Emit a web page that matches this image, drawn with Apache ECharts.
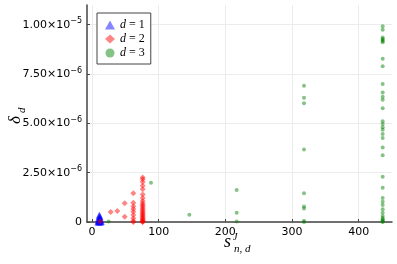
<!DOCTYPE html>
<html><head><meta charset="utf-8">
<script src="https://cdn.jsdelivr.net/npm/echarts@6/dist/echarts.min.js"></script>
<style>html,body{margin:0;padding:0;background:#fff}#c{width:397px;height:264px}</style>
</head><body><div id="c"></div>
<script>
// values in units of 1e-6
const SCALE = 1e-6;
const seriesNames = ['d = 1', 'd = 2', 'd = 3'];
const xTicks = [0, 100, 200, 300, 400];
const yTicks = [0, 2.5, 5, 7.5, 10];

const blueX = [9, 10, 10, 10, 11, 11, 11, 11, 12, 12, 12, 12, 13, 13, 9, 14, 11, 12];
const blueY = [0.05, 0.1, 0.2, 0.0, 0.05, 0.15, 0.3, 0.0, 0.1, 0.22, 0.0, 0.05, 0.12, 0.0, 0.0, 0.03, 0.35, 0.28];

const redX = [12,
  28, 38, 49, 49,
  62, 62, 62, 62, 62, 62, 62, 62, 62,
  76, 76, 76, 76, 76, 76, 76, 76, 76, 76, 76, 76, 76, 76, 76, 76, 76, 76, 76, 76, 76, 76, 76, 76, 76];
const redY = [0.02,
  0.51, 0.56, 0.95, 0.27,
  1.46, 0.98, 0.80, 0.66, 0.52, 0.35, 0.19, 0.05, 0.0,
  2.25, 2.17, 2.03, 1.84, 1.66, 1.40, 1.22, 1.06, 0.95, 0.86, 0.78, 0.70, 0.62, 0.55, 0.48, 0.41, 0.35, 0.29, 0.23, 0.18, 0.13, 0.08, 0.04, 0.01, 0.0];

const greenX = [25, 88.5, 146,
  217, 217, 217,
  318, 318, 318, 318, 318, 318, 318, 318, 318,
  436, 436, 436, 436, 436, 436, 436, 436, 436, 436, 436, 436, 436, 436, 436, 436, 436, 436, 436, 436,
  436, 436, 436, 436, 436, 436, 436, 436, 436, 436, 436, 436, 436, 436, 436];
const greenY = [0.03, 1.99, 0.37,
  1.62, 0.47, 0.02,
  6.91, 6.30, 6.02, 3.67, 1.46, 0.78, 0.69, 0.05, 0.0,
  9.92, 9.75, 9.35, 9.28, 9.23, 9.17, 9.11, 8.28, 7.90, 7.00, 6.56, 6.35, 6.20, 5.77, 5.11, 4.97, 4.80, 4.67, 4.46, 4.26,
  3.78, 3.38, 2.30, 1.74, 1.22, 1.03, 0.86, 0.64, 0.47, 0.30, 0.14, 0.08, 0.02, 0.0, 0.2];

function pts(xs, ys) { return xs.map((x, i) => [x, ys[i] * SCALE]); }

const chart = echarts.init(document.getElementById('c'), null, {renderer: 'canvas'});
const serif = 'Liberation Serif';
const sans = 'DejaVu Sans';

function yFmt(v) {
  if (Math.abs(v) < 1e-12) return '0';
  const e = Math.floor(Math.log10(Math.abs(v)) + 1e-9);
  const m = v / Math.pow(10, e);
  return '{m|' + m.toFixed(2) + '×10}{e|−' + (-e) + '}';
}

chart.setOption({
  animation: false,
  grid: {left: 87, right: 5, top: 5, bottom: 42, containLabel: false},
  legend: {
    orient: 'vertical', left: 97, top: 13,
    padding: [6, 6, 5, 8], itemGap: 2, itemWidth: 10, itemHeight: 9,
    borderColor: '#444', borderWidth: 1, backgroundColor: '#fff',
    data: seriesNames,
    formatter: function (n) { return '{i|d}{t| = ' + n.split('= ')[1] + '}'; },
    textStyle: {
      rich: {
        i: {fontFamily: serif, fontStyle: 'italic', fontSize: 12, color: '#000'},
        t: {fontFamily: serif, fontSize: 12, color: '#000'}
      }
    }
  },
  xAxis: {
    type: 'value', min: -7.5, max: 450,
    axisLine: {show: true, onZero: false, lineStyle: {color: '#444', width: 1.5}},
    axisTick: {show: true, inside: true, length: 3, customValues: xTicks, lineStyle: {color: '#444'}},
    axisLabel: {customValues: xTicks, fontFamily: sans, fontSize: 11, color: '#000', margin: 5},
    splitLine: {show: true, lineStyle: {color: '#ececec', width: 1}}
  },
  yAxis: {
    type: 'value', min: 0, max: 11 * SCALE,
    axisLine: {show: true, onZero: false, lineStyle: {color: '#444', width: 1.5}},
    axisTick: {show: true, inside: true, length: 3, customValues: yTicks.map(v => v * SCALE), lineStyle: {color: '#444'}},
    axisLabel: {
      customValues: yTicks.map(v => v * SCALE),
      formatter: yFmt, margin: 5, color: '#000',
      rich: {
        m: {fontFamily: sans, fontSize: 11, color: '#000'},
        e: {fontFamily: sans, fontSize: 8, color: '#000', verticalAlign: 'top', padding: [0, 0, 7, 0]}
      },
      fontFamily: sans, fontSize: 11
    },
    splitLine: {show: true, lineStyle: {color: '#ececec', width: 1}}
  },
  graphic: [
    {type: 'text', left: 224, top: 233, style: {text: 's', font: 'italic 18px "Liberation Serif"', fill: '#000'}},
    {type: 'text', left: 233, top: 232, style: {text: 'J', font: 'italic 10px "Liberation Serif"', fill: '#000'}},
    {type: 'text', left: 234, top: 244, style: {text: 'n, d', font: 'italic 11px "Liberation Serif"', fill: '#000'}},
    {type: 'text', x: 7, y: 124, rotation: Math.PI / 2,
      style: {text: 'δ', font: 'italic 17px "Liberation Serif"', fill: '#000'}},
    {type: 'text', x: 17, y: 113, rotation: Math.PI / 2,
      style: {text: 'd', font: 'italic 11px "Liberation Serif"', fill: '#000'}}
  ],
  series: [
    {name: seriesNames[0], type: 'scatter', symbol: 'triangle', symbolSize: 7,
      itemStyle: {color: 'rgba(0,0,255,0.6)'}, data: pts(blueX, blueY)},
    {name: seriesNames[1], type: 'scatter', symbol: 'diamond', symbolSize: 6,
      itemStyle: {color: 'rgba(255,0,0,0.6)'}, data: pts(redX, redY)},
    {name: seriesNames[2], type: 'scatter', symbol: 'circle', symbolSize: 4,
      itemStyle: {color: 'rgba(0,128,0,0.6)'}, data: pts(greenX, greenY)}
  ]
});
</script>
</body></html>
